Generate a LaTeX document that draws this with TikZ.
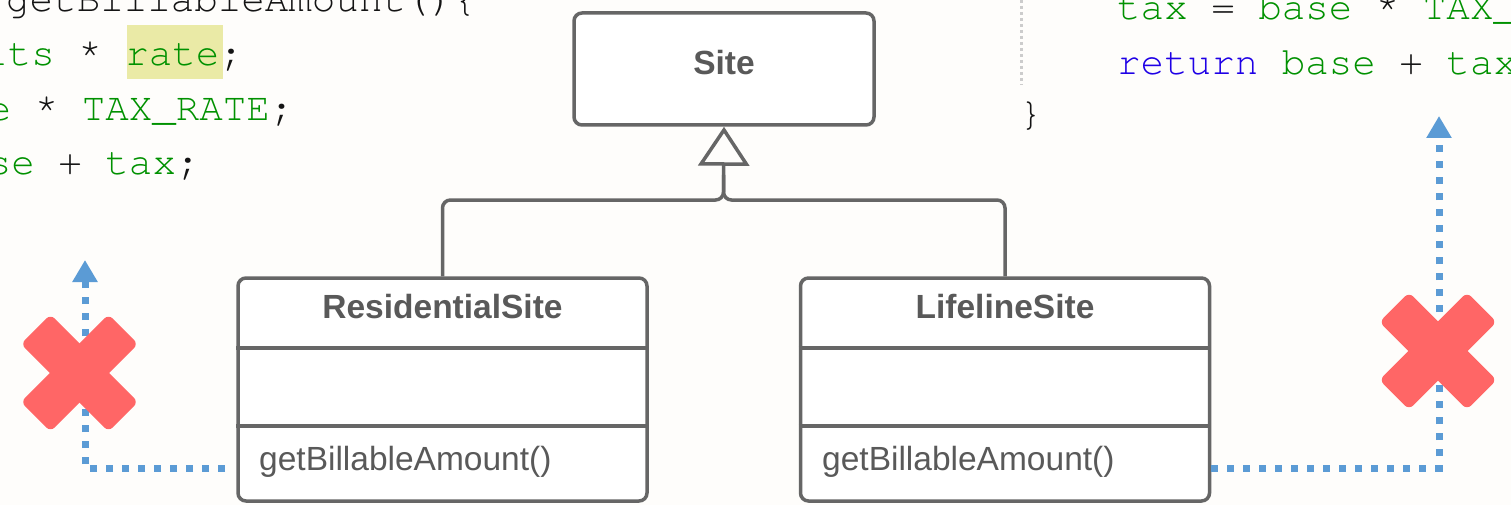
\documentclass[tikz,border=0pt]{standalone}
\usepackage{fontspec}
\setmainfont{Liberation Sans}
\newfontfamily\codefont{TeX Gyre Cursor}
\usetikzlibrary{arrows.meta}
\definecolor{bg}{RGB}{254,253,251}
\definecolor{umlgray}{RGB}{102,102,102}
\definecolor{umltext}{RGB}{89,89,89}
\definecolor{depblue}{RGB}{91,155,213}
\definecolor{xred}{RGB}{255,102,102}
\definecolor{codegreen}{RGB}{0,145,0}
\definecolor{codeblue}{RGB}{30,0,230}
\definecolor{codeblack}{RGB}{20,20,20}
\definecolor{hl}{RGB}{234,234,166}
\definecolor{sepgray}{RGB}{204,204,204}
\begin{document}
\begin{tikzpicture}[x=1pt,y=-1pt,
  box/.style={draw=umlgray, line width=3.5pt, rounded corners=8pt, fill=white, inner sep=0pt},
  title/.style={font=\fontsize{33.5}{40}\selectfont\bfseries, text=umltext, anchor=base, inner sep=0pt},
  method/.style={font=\fontsize{33.5}{40}\selectfont, text=umltext, anchor=base west, inner sep=0pt},
  gen/.style={draw=umlgray, line width=3.5pt, rounded corners=8pt},
  divider/.style={draw=umlgray, line width=3.5pt},
  dep/.style={draw=depblue, line width=7pt, dash pattern=on 7pt off 9pt, -{Triangle[length=22pt,width=24pt]}},
  code/.style={font=\codefont\fontsize{39.2}{45}\selectfont, anchor=base west, inner sep=0pt},
  cross/.style={fill=xred, rounded corners=6pt}
]
\useasboundingbox (0,0) rectangle (1511,505);
\clip (0,0) rectangle (1511,505);
\fill[bg] (0,0) rectangle (1511,505);

% background code
\fill[hl] (127,25) rectangle (223,79);
\node[code] (l1) at (6,12) {\textcolor{codeblack}{getBillableAmount()\{}};
\node[code] (l2) at (-63,66) {\textcolor{codegreen}{units} \textcolor{codeblack}{*} \textcolor{codegreen}{rate}\textcolor{codeblack}{;}};
\node[code] (l3) at (-83,120.5) {\textcolor{codegreen}{base} \textcolor{codeblack}{*} \textcolor{codegreen}{TAX\_RATE}\textcolor{codeblack}{;}};
\node[code] (l4) at (-224,175) {\textcolor{codeblue}{return} \textcolor{codegreen}{base} \textcolor{codeblack}{+} \textcolor{codegreen}{tax}\textcolor{codeblack}{;}};

\draw[sepgray, line width=3pt, dash pattern=on 3pt off 3pt] (1021.5,0) -- (1021.5,85);
\node[code] (r1) at (1117,20) {\textcolor{codegreen}{tax} \textcolor{codeblack}{=} \textcolor{codegreen}{base} \textcolor{codeblack}{*} \textcolor{codegreen}{TAX\_RATE}\textcolor{codeblack}{;}};
\node[code] (r2) at (1117,75) {\textcolor{codeblue}{return} \textcolor{codegreen}{base} \textcolor{codeblack}{+} \textcolor{codegreen}{tax}\textcolor{codeblack}{;}};
\node[code] (r3) at (1019,126) {\textcolor{codeblack}{\}}};

% UML boxes
\node[box, minimum width=300, minimum height=112] (site) at (724,69) {};
\node[title] (sitelbl) at (724,75) {Site};

\node[box, minimum width=409, minimum height=223] (res) at (442.5,389.5) {};
\draw[divider] (res.west |- 0,348) -- (res.east |- 0,348);
\draw[divider] (res.west |- 0,426) -- (res.east |- 0,426);
\node[title] (restitle) at (442.5,318) {ResidentialSite};
\node[method] (resm) at (259,470) {getBillableAmount()};

\node[box, minimum width=409, minimum height=223] (life) at (1005,389.5) {};
\draw[divider] (life.west |- 0,348) -- (life.east |- 0,348);
\draw[divider] (life.west |- 0,426) -- (life.east |- 0,426);
\node[title] (lifetitle) at (1005,318) {LifelineSite};
\node[method] (lifem) at (822,470) {getBillableAmount()};

% generalization
\coordinate (j) at (723.5,200);
\coordinate (j2) at (723.5,175);
\draw[gen, -{Triangle[open, length=39pt, width=51pt]}] (res.north) |- (j) -- (site.south);
\draw[gen] (life.north) |- (j) -- (j2);

% dependency arrows
\coordinate (lfrom) at (225,468);
\coordinate (ltip) at (85,260);
\draw[dep] (lfrom) -| (ltip);
\coordinate (rfrom) at (1211,468);
\coordinate (rtip) at (1439,116);
\draw[dep] (rfrom) -| (rtip);

% crosses
\begin{scope}[shift={(79.5,373)}, rotate=45]
  \fill[cross] (-62,-21) rectangle (62,21);
  \fill[cross] (-21,-62) rectangle (21,62);
\end{scope}
\begin{scope}[shift={(1438,351)}, rotate=45]
  \fill[cross] (-62,-21) rectangle (62,21);
  \fill[cross] (-21,-62) rectangle (21,62);
\end{scope}
\end{tikzpicture}
\end{document}
